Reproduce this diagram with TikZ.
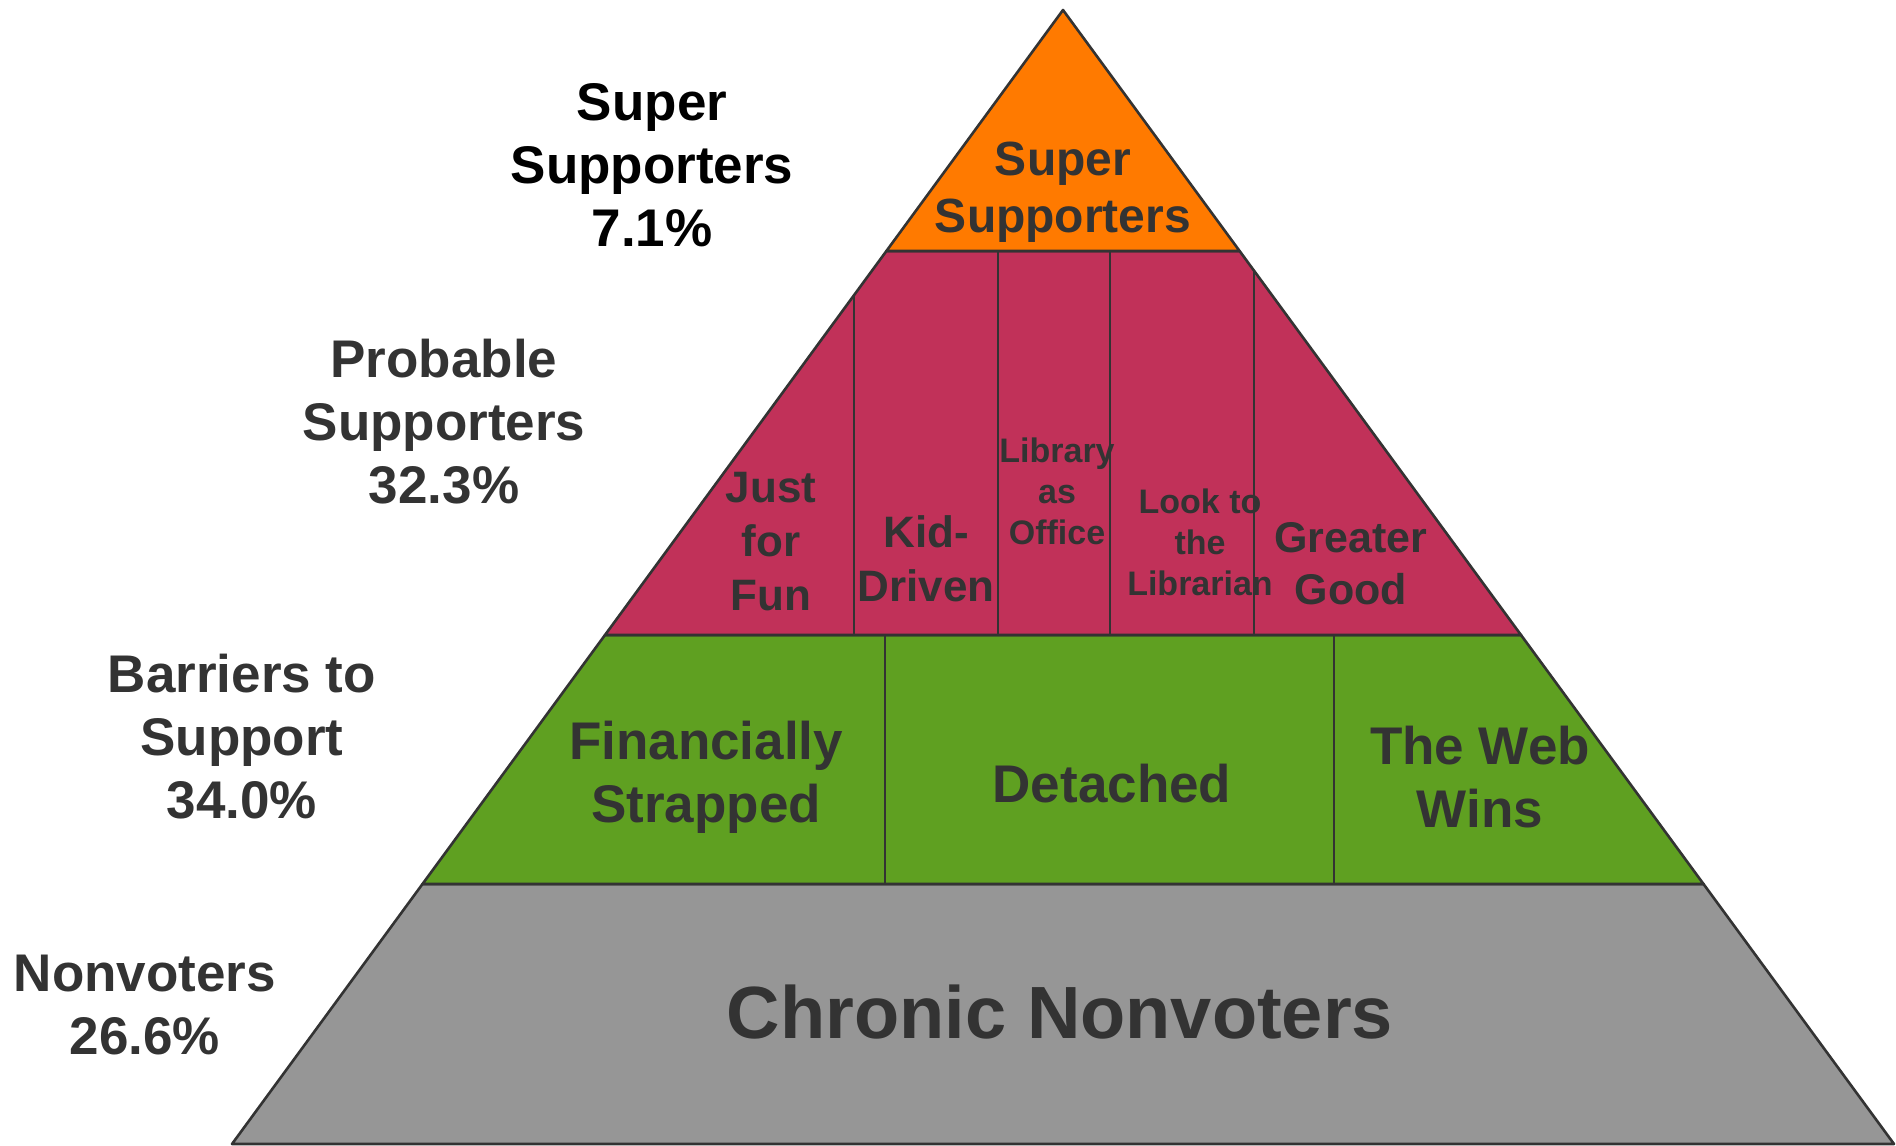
\documentclass[tikz,border=0pt]{standalone}
\usepackage{fontspec}
\setmainfont{Liberation Sans}
\usetikzlibrary{positioning}
\definecolor{cima}{HTML}{FF7A00}
\definecolor{vino}{HTML}{C13159}
\definecolor{pasto}{HTML}{5FA021}
\definecolor{gris}{HTML}{969696}
\definecolor{tinta}{HTML}{333333}
\tikzset{tier/.style={draw=tinta,line width=2.6pt,line join=round,fill=#1},
         div/.style={draw=tinta,line width=2pt},
         lbl/.style={font=\bfseries\fontsize{53}{63}\selectfont,text=tinta,align=center},
         seg/.style 2 args={font=\bfseries\fontsize{#1}{#2}\selectfont,text=tinta,align=center}}

\begin{document}
\begin{tikzpicture}[x=1pt,y=-1pt]
  \useasboundingbox (0,0) rectangle (1896,1146);
  % tiers, top to bottom
  \coordinate (apex) at (1063,10);
  \draw[tier=gris]  (422.5,884) -- (1703.5,884) -- (1894,1144) -- (232,1144) -- cycle;
  \draw[tier=pasto] (605,635) -- (1521,635) -- (1703.5,884) -- (422.5,884) -- cycle;
  \draw[tier=vino]  (886.4,251) -- (1239.6,251) -- (1521,635) -- (605,635) -- cycle;
  \draw[tier=cima]  (apex) -- (1239.6,251) -- (886.4,251) -- cycle;
  % splits inside the tiers
  \draw[div] (854,295) -- (854,635) (1254,271) -- (1254,635);
  \foreach \x in {998,1110} \draw[div] (\x,251) -- (\x,635);
  \foreach \x in {885,1334} \draw[div] (\x,635) -- (\x,884);
  % side labels
  \node[lbl,text=black] (lsuper) at (652,165) {Super\\Supporters\\7.1\%};
  \node[lbl] (lprob) at (444,422) {Probable\\Supporters\\32.3\%};
  \node[lbl] (lbarr) at (242,737) {Barriers to\\Support\\34.0\%};
  \node[lbl] (lnon) at (145,1005) {Nonvoters\\26.6\%};
  % segments
  \node[seg={48}{57}] (super) at (1063,192) {Super\\Supporters};
  \node[seg={44}{54}] (fun) at (771,542) {Just\\for\\Fun};
  \node[seg={44}{54}] (kid) at (926,559) {Kid-\\Driven};
  \node[seg={34}{41}] (office) at (1057,491) {Library\\as\\Office};
  \node[seg={34}{41}] (librarian) at (1200,542) {Look to\\the\\Librarian};
  \node[seg={43}{52}] (good) at (1351,564) {Greater\\Good};
  \node[seg={53}{63}] (strapped) at (706,777) {Financially\\Strapped};
  \node[seg={53}{63}] (detached) at (1112,784) {Detached};
  \node[seg={53}{63}] (web) at (1480,777) {The Web\\Wins};
  \node[seg={74}{88}] (chronic) at (1060,1012) {Chronic Nonvoters};
\end{tikzpicture}
\end{document}
